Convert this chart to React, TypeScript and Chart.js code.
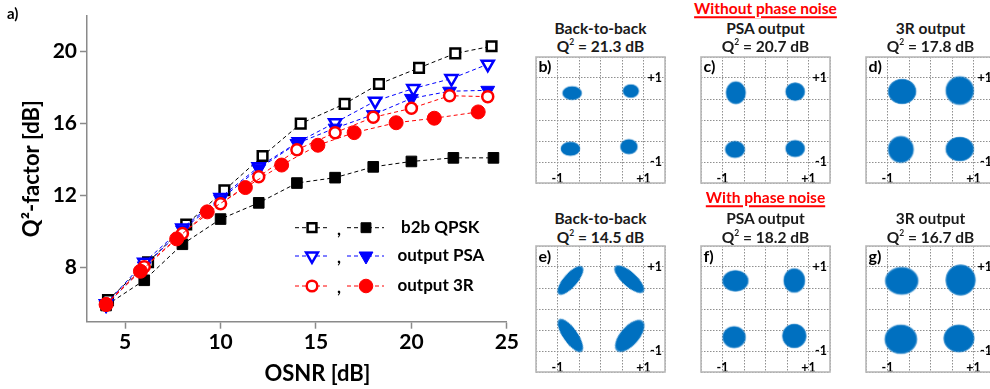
import React, { useEffect, useRef } from 'react';
import { Chart, registerables } from 'chart.js';
import { drawPoint } from 'chart.js/helpers';

Chart.register(...registerables);

// ---------------- main chart data ----------------
const xTickValues = [5, 10, 15, 20, 25];
const yTickValues = [8, 12, 16, 20];

const b2bCleanOsnr = [4.1, 6.2, 8.2, 10.2, 12.2, 14.2, 16.5, 18.3, 20.4, 22.3, 24.2];
const b2bCleanQ2 = [6.2, 8.3, 10.4, 12.3, 14.2, 16.0, 17.1, 18.2, 19.1, 19.9, 20.3];
const b2bNoisyOsnr = [4, 6, 8, 10, 12, 14, 16, 18, 20, 22.2, 24.3];
const b2bNoisyQ2 = [5.9, 7.3, 9.3, 10.7, 11.6, 12.7, 13.0, 13.6, 13.9, 14.1, 14.1];
const psaCleanOsnr = [4, 6, 8, 10, 12, 14.1, 16, 18.1, 20.1, 22.1, 24];
const psaCleanQ2 = [6.0, 8.3, 10.2, 11.9, 13.6, 15.0, 16.05, 17.25, 17.95, 18.5, 19.3];
const psaNoisyOsnr = [4, 6, 8, 10, 12, 14, 16, 18, 20, 22, 24];
const psaNoisyQ2 = [5.9, 8.1, 10.1, 11.8, 13.5, 14.9, 15.75, 16.5, 17.4, 17.8, 17.85];
const r3CleanOsnr = [4, 6, 8, 10, 12, 14, 16, 18, 20, 22, 24];
const r3CleanQ2 = [6.0, 8.05, 9.9, 11.55, 13.05, 14.55, 15.5, 16.35, 16.85, 17.55, 17.5];
const r3NoisyOsnr = [4.0, 5.8, 7.7, 9.3, 11.3, 13.2, 15.1, 17.0, 19.2, 21.2, 23.5];
const r3NoisyQ2 = [5.95, 7.8, 9.6, 11.1, 12.45, 13.7, 14.8, 15.5, 16.05, 16.3, 16.65];

const legendLabels = ['b2b QPSK', 'output PSA', 'output 3R'];

// ---------------- constellation data ----------------
// each cluster: [I, Q, semi-axis (major), semi-axis (minor), tilt in degrees]
const constB = [[-0.66, 0.64, 0.235, 0.17, 0], [0.705, 0.69, 0.195, 0.167, 0], [-0.70, -0.685, 0.235, 0.175, 0], [0.66, -0.635, 0.21, 0.187, 0]];
const constC = [[-0.69, 0.65, 0.24, 0.28, 0], [0.69, 0.675, 0.235, 0.225, 0], [-0.71, -0.70, 0.24, 0.21, 0], [0.69, -0.68, 0.235, 0.21, 0]];
const constD = [[-0.66, 0.68, 0.34, 0.31, 0], [0.68, 0.70, 0.34, 0.35, 0], [-0.69, -0.70, 0.31, 0.33, 0], [0.68, -0.69, 0.34, 0.30, 0]];
const constE = [[-0.70, 0.68, 0.433, 0.17, -49], [0.67, 0.71, 0.455, 0.18, 42], [-0.70, -0.63, 0.47, 0.18, 55], [0.68, -0.64, 0.47, 0.23, -49]];
const constF = [[-0.70, 0.67, 0.315, 0.26, 0], [0.67, 0.68, 0.26, 0.30, 0], [-0.73, -0.67, 0.28, 0.27, 0], [0.67, -0.64, 0.29, 0.30, 0]];
const constG = [[-0.67, 0.67, 0.40, 0.34, 0], [0.70, 0.69, 0.36, 0.38, 0], [-0.69, -0.72, 0.39, 0.36, 0], [0.66, -0.70, 0.37, 0.34, 0]];

const constGrid = [-1.5, -1, -0.5, 0, 0.5, 1, 1.5];
const panelTitles = ['Back-to-back', 'PSA output', '3R output'];
const q2Clean = ['21.3', '20.7', '17.8'];
const q2Noisy = ['14.5', '18.2', '16.7'];
const sectionTitles = ['Without phase noise', 'With phase noise'];

const FONT = 'Lato, "Open Sans", sans-serif';
const BLACK = '#000000';
const BLUE = '#0000ff';
const RED = '#ff0000';
const AXIS = '#8a8a8a';
const DOT_BLUE = [0, 112, 192];

type Series = { xs: number[]; ys: number[]; color: string; style: string; filled: boolean; r: number; rot: number };

const seriesDefs: Series[] = [
  { xs: r3NoisyOsnr, ys: r3NoisyQ2, color: RED, style: 'circle', filled: true, r: 7, rot: 0 },
  { xs: r3CleanOsnr, ys: r3CleanQ2, color: RED, style: 'circle', filled: false, r: 5.5, rot: 0 },
  { xs: psaNoisyOsnr, ys: psaNoisyQ2, color: BLUE, style: 'triangle', filled: true, r: 8, rot: 180 },
  { xs: psaCleanOsnr, ys: psaCleanQ2, color: BLUE, style: 'triangle', filled: false, r: 7, rot: 180 },
  { xs: b2bNoisyOsnr, ys: b2bNoisyQ2, color: BLACK, style: 'rect', filled: true, r: 7.5, rot: 0 },
  { xs: b2bCleanOsnr, ys: b2bCleanQ2, color: BLACK, style: 'rect', filled: false, r: 6.8, rot: 0 },
];

const legendRows = [
  { color: BLACK, style: 'rect', rot: 0, rOpen: 6.2, rFill: 7, label: legendLabels[0], textX: 401, y: 227.7 },
  { color: BLUE, style: 'triangle', rot: 180, rOpen: 6.8, rFill: 8, label: legendLabels[1], textX: 397.5, y: 256 },
  { color: RED, style: 'circle', rot: 0, rOpen: 5.3, rFill: 6.8, label: legendLabels[2], textX: 397.5, y: 286 },
];

const pairLegend = {
  id: 'pairLegend',
  afterDraw(chart: any) {
    const ctx = chart.ctx as CanvasRenderingContext2D;
    legendRows.forEach((row) => {
      const y = row.y;
      ctx.save();
      ctx.strokeStyle = row.color;
      ctx.lineWidth = 1;
      ctx.setLineDash([4, 3]);
      ctx.beginPath();
      ctx.moveTo(295, y); ctx.lineTo(330, y);
      ctx.moveTo(347, y); ctx.lineTo(384, y);
      ctx.stroke();
      ctx.restore();
      ctx.save();
      ctx.fillStyle = '#ffffff';
      ctx.strokeStyle = row.color;
      ctx.lineWidth = 2.5;
      drawPoint(ctx, { pointStyle: row.style, rotation: row.rot, radius: row.rOpen, borderWidth: 2.5 } as any, 312, y);
      ctx.restore();
      ctx.save();
      ctx.fillStyle = row.color;
      ctx.strokeStyle = row.color;
      ctx.lineWidth = 1;
      drawPoint(ctx, { pointStyle: row.style, rotation: row.rot, radius: row.rFill, borderWidth: 1 } as any, 366, y);
      ctx.restore();
      ctx.save();
      ctx.fillStyle = '#000';
      ctx.font = `bold 17px ${FONT}`;
      ctx.textBaseline = 'middle';
      ctx.textAlign = 'left';
      ctx.fillText(',', 337, y + 2);
      ctx.fillText(row.label, row.textX, y);
      ctx.restore();
    });
  },
};

function MainChart() {
  const ref = useRef<HTMLCanvasElement>(null);
  useEffect(() => {
    const chart = new Chart(ref.current!, {
      type: 'scatter',
      data: {
        datasets: seriesDefs.map((s) => ({
          data: s.xs.map((x, i) => ({ x, y: s.ys[i] })),
          showLine: true,
          borderColor: s.color,
          borderWidth: 1,
          borderDash: [4, 3],
          backgroundColor: s.filled ? s.color : '#ffffff',
          pointStyle: s.style as any,
          pointRadius: s.r,
          pointRotation: s.rot,
          pointBorderWidth: s.filled ? 1 : 2.5,
          pointBackgroundColor: s.filled ? s.color : '#ffffff',
          pointBorderColor: s.color,
          fill: false,
          tension: 0,
        })),
      },
      options: {
        animation: false,
        responsive: false,
        events: [],
        layout: { padding: { top: 9.5, right: 10.7, left: 0, bottom: 0 } },
        plugins: { legend: { display: false }, tooltip: { enabled: false } },
        scales: {
          x: {
            type: 'linear',
            min: 3,
            max: 25,
            afterBuildTicks: (s: any) => { s.ticks = xTickValues.map((v) => ({ value: v })); },
            afterFit: (s: any) => { s.height = 67.3; },
            ticks: { color: '#000', padding: 1, maxRotation: 0, autoSkip: false, font: { family: FONT, size: 21, weight: 'bold' } },
            grid: { drawOnChartArea: false, drawTicks: true, tickLength: 7, tickColor: AXIS, tickWidth: 1.5 },
            border: { display: true, color: AXIS, width: 1.5 },
          },
          y: {
            type: 'linear',
            min: 5,
            max: 22,
            afterBuildTicks: (s: any) => { s.ticks = yTickValues.map((v) => ({ value: v })); },
            afterFit: (s: any) => { s.width = 87; },
            ticks: { color: '#000', padding: 3, autoSkip: false, font: { family: FONT, size: 21, weight: 'bold' } },
            grid: { drawOnChartArea: false, drawTicks: true, tickLength: 7, tickColor: AXIS, tickWidth: 1.5 },
            border: { display: true, color: AXIS, width: 1.5 },
            title: { display: true, text: 'Q²-factor [dB]', color: '#000', padding: { top: 19, bottom: 0 }, font: { family: FONT, size: 22, weight: 'bold' } },
          },
        },
      },
      plugins: [pairLegend],
    } as any);
    return () => chart.destroy();
  }, []);
  return <canvas ref={ref} width={520} height={389} style={{ position: 'absolute', left: 0, top: 0, width: 520, height: 389 }} />;
}

const blobCache = new Map<string, HTMLCanvasElement>();
function blobImage(rxPx: number, ryPx: number): HTMLCanvasElement {
  const key = rxPx.toFixed(2) + '_' + ryPx.toFixed(2);
  const hit = blobCache.get(key);
  if (hit) return hit;
  const c = document.createElement('canvas');
  const w = Math.ceil(rxPx * 2) + 2;
  const h = Math.ceil(ryPx * 2) + 2;
  c.width = w;
  c.height = h;
  const g = c.getContext('2d')!;
  g.translate(w / 2, h / 2);
  g.scale(1, ryPx / rxPx);
  const [r, gg, b] = DOT_BLUE;
  const grad = g.createRadialGradient(0, 0, 0, 0, 0, rxPx);
  grad.addColorStop(0, `rgba(${r},${gg},${b},1)`);
  grad.addColorStop(0.88, `rgba(${r},${gg},${b},1)`);
  grad.addColorStop(0.95, `rgba(${r},${gg},${b},0.7)`);
  grad.addColorStop(1, `rgba(${r},${gg},${b},0.25)`);
  g.fillStyle = grad;
  g.beginPath();
  g.arc(0, 0, rxPx, 0, Math.PI * 2);
  g.fill();
  blobCache.set(key, c);
  return c;
}

const boxPlugin = {
  id: 'constBox',
  afterDraw(chart: any) {
    const { ctx, chartArea: a } = chart;
    ctx.save();
    ctx.strokeStyle = '#b8b8b8';
    ctx.lineWidth = 1.6;
    ctx.setLineDash([]);
    ctx.strokeRect(a.left, a.top, a.right - a.left, a.bottom - a.top);
    ctx.restore();
  },
};

const BOX_W = 131;
const BOX_H = 128;
const PAD = 4;

function Constellation({ clusters, left, top }: { clusters: number[][]; left: number; top: number }) {
  const ref = useRef<HTMLCanvasElement>(null);
  useEffect(() => {
    const chart = new Chart(ref.current!, {
      type: 'scatter',
      data: {
        datasets: [
          {
            data: clusters.map((c) => ({ x: c[0], y: c[1], a: c[2], b: c[3], tilt: c[4] })),
            pointRadius: 4,
            pointRotation: (ctx: any) => (ctx.raw ? ctx.raw.tilt : 0),
            pointStyle: (ctx: any) => {
              const raw = ctx.raw;
              const xs = ctx.chart.scales.x;
              const ys = ctx.chart.scales.y;
              if (!raw || !xs || !ys) return 'circle';
              const ax = Math.abs(xs.getPixelForValue(raw.x + raw.a) - xs.getPixelForValue(raw.x));
              const by = Math.abs(ys.getPixelForValue(raw.y + raw.b) - ys.getPixelForValue(raw.y));
              if (!Number.isFinite(ax) || !Number.isFinite(by) || ax < 1 || by < 1) return 'circle';
              return blobImage(ax, by);
            },
          },
        ],
      },
      options: {
        animation: false,
        responsive: false,
        events: [],
        layout: { padding: PAD },
        plugins: { legend: { display: false }, tooltip: { enabled: false } },
        scales: {
          x: {
            type: 'linear',
            position: 'bottom',
            min: -1.5,
            max: 1.5,
            afterBuildTicks: (s: any) => { s.ticks = constGrid.map((v) => ({ value: v })); },
            afterFit: (s: any) => { s.height = 0; },
            ticks: {
              autoSkip: false,
              maxRotation: 0,
              mirror: true,
              padding: -3,
              color: '#000',
              font: { family: FONT, size: 12.5, weight: 'bold' },
              callback: (v: any) => (v === 1 ? '+1' : v === -1 ? '-1' : ''),
            },
            grid: { color: '#8f8f8f', lineWidth: 1, drawTicks: false },
            border: { display: false, dash: [1.5, 1.5] },
          },
          y: {
            type: 'linear',
            position: 'right',
            min: -1.5,
            max: 1.5,
            afterBuildTicks: (s: any) => { s.ticks = constGrid.map((v) => ({ value: v })); },
            afterFit: (s: any) => { s.width = 0; },
            ticks: {
              autoSkip: false,
              mirror: true,
              padding: -3,
              color: '#000',
              font: { family: FONT, size: 12.5, weight: 'bold' },
              callback: (v: any) => (v === 1 ? '+1' : v === -1 ? '-1' : ''),
            },
            grid: { color: '#8f8f8f', lineWidth: 1, drawTicks: false },
            border: { display: false, dash: [1.5, 1.5] },
          },
        },
      },
      plugins: [boxPlugin],
    } as any);
    return () => chart.destroy();
  }, []);
  const w = BOX_W + 2 * PAD;
  const h = BOX_H + 2 * PAD;
  return (
    <canvas
      ref={ref}
      width={w}
      height={h}
      style={{ position: 'absolute', left: left - PAD, top: top - PAD, width: w, height: h }}
    />
  );
}

function Txt({ x, y, size, color = '#000', align = 'center', underline = false, children }: any) {
  return (
    <div
      style={{
        position: 'absolute',
        left: x,
        top: y,
        transform: align === 'center' ? 'translate(-50%, -50%)' : 'translate(0, -50%)',
        fontFamily: FONT,
        fontWeight: 700,
        fontSize: size,
        lineHeight: 1,
        color,
        whiteSpace: 'nowrap',
        textDecoration: underline ? 'underline' : 'none',
        textDecorationThickness: underline ? '1.5px' : undefined,
        textUnderlineOffset: underline ? '2px' : undefined,
      }}
    >
      {children}
    </div>
  );
}

const Q2 = ({ v }: { v: string }) => (
  <>
    Q<sup style={{ fontSize: '0.55em', verticalAlign: '0.8em', lineHeight: 0 }}>2</sup> = {v} dB
  </>
);

const boxLefts = [535, 700, 865];
const boxTops = [55.5, 245];
const rows = [
  { clusters: [constB, constC, constD], letters: ['b)', 'c)', 'd)'], q2: q2Clean, section: sectionTitles[0], secY: 8.5, titleY: 28.5, qY: 47 },
  { clusters: [constE, constF, constG], letters: ['e)', 'f)', 'g)'], q2: q2Noisy, section: sectionTitles[1], secY: 198, titleY: 218.5, qY: 238 },
];

export default function App() {
  return (
    <div style={{ position: 'fixed', left: 0, top: 0, width: 990, height: 389, overflow: 'hidden', background: '#fff' }}>
      <MainChart />
      <Txt x={7} y={13} size={15} align="left">a)</Txt>
      <Txt x={317.5} y={373} size={22}>OSNR [dB]</Txt>
      {rows.map((row, ri) => (
        <React.Fragment key={ri}>
          <Txt x={765.5} y={row.secY} size={15.5} color={RED} underline>{row.section}</Txt>
          {boxLefts.map((bl, ci) => (
            <React.Fragment key={ci}>
              <Txt x={bl + BOX_W / 2} y={row.titleY} size={15.5} color="#1a1a1a">{panelTitles[ci]}</Txt>
              <Txt x={bl + BOX_W / 2} y={row.qY} size={15.5} color="#1a1a1a"><Q2 v={row.q2[ci]} /></Txt>
              <Constellation clusters={row.clusters[ci]} left={bl} top={boxTops[ri]} />
              <Txt x={bl + 3.5} y={boxTops[ri] + 10.5} size={16} align="left">{row.letters[ci]}</Txt>
            </React.Fragment>
          ))}
        </React.Fragment>
      ))}
    </div>
  );
}
